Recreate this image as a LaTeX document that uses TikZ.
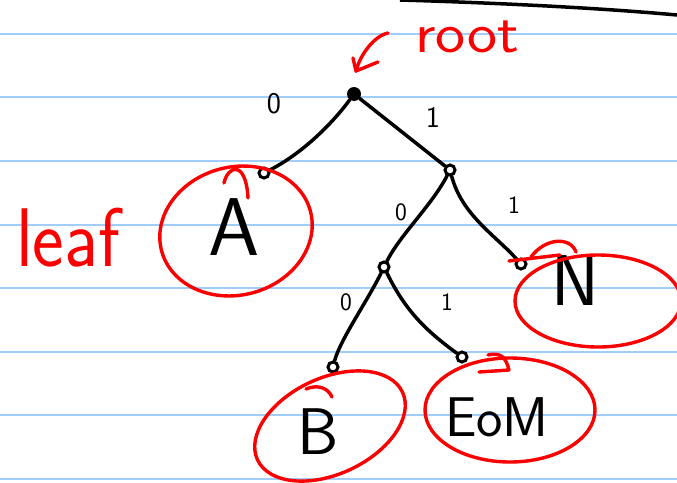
\documentclass[tikz,border=0pt]{standalone}
\usetikzlibrary{shapes.geometric}
\definecolor{ruleblue}{RGB}{160,205,250}
\definecolor{inkred}{RGB}{250,0,0}
\begin{document}
\begin{tikzpicture}[x=1pt,y=-1pt,
  rule/.style={ruleblue,line width=2pt},
  edge/.style={black,line width=3.5pt,line cap=round},
  rootdot/.style={circle,fill=black,inner sep=0pt,minimum size=14pt},
  knot/.style={circle,draw=black,line width=3pt,inner sep=0pt,minimum size=10pt},
  ring/.style={ellipse,draw=inkred,line width=3.4pt,inner sep=0pt},
  redstroke/.style={inkred,line width=3.4pt,line cap=round,line join=round},
  bit/.style={font=\sffamily\fontsize{30}{30}\selectfont,inner sep=0pt},
  smallbit/.style={font=\sffamily\fontsize{25}{25}\selectfont,inner sep=0pt},
  letter/.style={font=\sffamily,inner sep=0pt},
  note/.style={text=inkred,font=\sffamily,inner sep=0pt}]
\useasboundingbox (0,0) rectangle (677,482);
\fill[white] (0,0) rectangle (677,482);
\foreach \yy in {34,97,161,225,288,352,415,479} {\draw[rule] (0,\yy) -- (677,\yy);}
% top black stroke
\draw[black,line width=3.5pt] (400,0) .. controls (500,3) and (600,8) .. (677,15);
% tree nodes
\node[rootdot] (root) at (354,94) {};
\node[knot] (a) at (264,173) {};
\node[knot] (r1) at (450,170) {};
\node[knot] (m) at (384,267) {};
\node[knot] (n) at (521,264) {};
\node[knot] (b) at (333,367) {};
\node[knot] (e) at (462,357) {};
% edges
\draw[edge] (root) .. controls (335,120) and (305,152) .. (a);
\draw[edge] (root) -- (r1);
\draw[edge] (r1) .. controls (432,205) and (400,235) .. (m);
\draw[edge] (r1) .. controls (462,215) and (495,235) .. (n);
\draw[edge] (m) .. controls (368,300) and (340,340) .. (b);
\draw[edge] (m) .. controls (405,310) and (425,330) .. (e);
% bit labels
\node[bit] (l0a) at (274,104) {0};
\node[bit] (l1a) at (433,117) {1};
\node[smallbit] (l0b) at (401,212) {0};
\node[smallbit] (l1b) at (514,205) {1};
\node[smallbit] (l0c) at (346,302) {0};
\node[smallbit] (l1c) at (447,302) {1};
% leaf letters
\node[letter,font=\sffamily\fontsize{82}{82}\selectfont] (ta) at (234,227) {A};
\node[letter,font=\sffamily\fontsize{72}{72}\selectfont] (tn) at (575,281) {N};
\node[letter,font=\sffamily\fontsize{66}{66}\selectfont] (tb) at (318,432) {B};
\node[letter,font=\sffamily\fontsize{56}{56}\selectfont] (te) at (497,417) {EoM};
% red rings
\node[ring,minimum width=154pt,minimum height=128pt,rotate=15] (ra) at (236,231) {};
\node[ring,minimum width=166pt,minimum height=92pt] (rn) at (598,301) {};
\node[ring,minimum width=160pt,minimum height=96pt,rotate=25] (rb) at (330,426) {};
\node[ring,minimum width=170pt,minimum height=104pt] (re) at (510,410) {};
% ring hooks
\draw[redstroke] (224,183) .. controls (228,165) and (246,160) .. (248,198);
\draw[redstroke] (509,261) -- (560,255);
\draw[redstroke] (531,257) .. controls (545,238) and (570,236) .. (576,252);
\draw[redstroke] (306,389) .. controls (318,384) and (328,388) .. (332,397);
\draw[redstroke] (479,372) -- (509,370) .. controls (506,357) and (500,352) .. (488,355);
% annotations
\node[note,font=\sffamily\fontsize{44}{44}\selectfont] (troot) at (467,37) {\scalebox{1.45}[1.3]{root}};
\coordinate (arrtip) at (356,71);
\draw[redstroke] (388,33) .. controls (374,36) and (360,55) .. (arrtip);
\draw[redstroke] (353,58) -- (arrtip) -- (378,62);
\node[note,font=\sffamily\fontsize{52}{52}\selectfont] (tleaf) at (68,238) {\scalebox{1.45}[1.6]{leaf}};
\end{tikzpicture}
\end{document}
